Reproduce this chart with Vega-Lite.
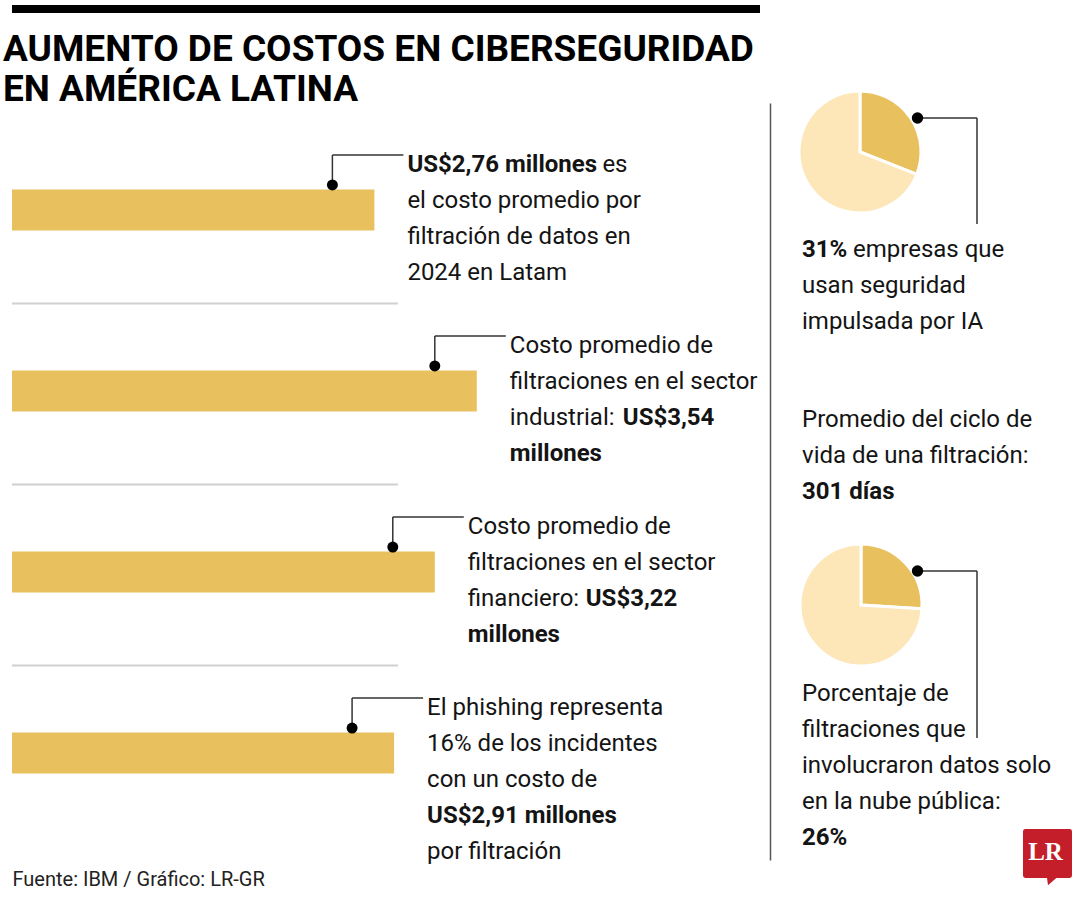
{
  "$schema": "https://vega.github.io/schema/vega-lite/v6.json",
  "background": "white",
  "padding": {"left": 0, "top": 4, "right": 0, "bottom": 0},
  "config": {
    "font": "Roboto",
    "view": {"stroke": null},
    "text": {"color": "#141414"}
  },
  "datasets": {
    "filas": [
      {"fila": "Latam 2024", "valor": 2.76, "negrita_l1": "US$2,76 millones", "cola_l1": "es", "regular_l2": ["el costo promedio por", "filtración de datos en", "2024 en Latam"]},
      {"fila": "Sector industrial", "valor": 3.54, "regular_l1": ["Costo promedio de", "filtraciones en el sector", "industrial:"], "negrita_l3": "US$3,54", "negrita_l4": "millones"},
      {"fila": "Sector financiero", "valor": 3.22, "regular_l1": ["Costo promedio de", "filtraciones en el sector", "financiero:"], "negrita_l3": "US$3,22", "negrita_l4": "millones"},
      {"fila": "Phishing", "valor": 2.91, "regular_l1": ["El phishing representa", "16% de los incidentes", "con un costo de"], "negrita_l4": "US$2,91 millones", "regular_l5": "por filtración"}
    ],
    "derecha": [
      {"bloque": "IA", "negrita": "31%", "cola": "empresas que", "regular": ["usan seguridad", "impulsada por IA"]},
      {"bloque": "Ciclo", "regular": ["Promedio del ciclo de", "vida de una filtración:"], "negrita": "301 días"},
      {"bloque": "Nube", "regular": ["Porcentaje de", "filtraciones que", "involucraron datos solo", "en la nube pública:"], "negrita": "26%"}
    ],
    "tortas": [
      {"bloque": "IA", "parte": "Sí", "pct": 31},
      {"bloque": "IA", "parte": "No", "pct": 69},
      {"bloque": "Nube", "parte": "Sí", "pct": 26},
      {"bloque": "Nube", "parte": "No", "pct": 74}
    ],
    "logo": [{"bloque": "Nube", "marca": "LR"}]
  },
  "spacing": 18,
  "vconcat": [
    {
      "width": 748,
      "height": 8,
      "view": {"fill": "#000000", "stroke": null},
      "data": {"values": [{"t": 1}]},
      "mark": {"type": "rule"},
      "encoding": {}
    },
    {
      "spacing": 0,
      "hconcat": [
        {
          "width": 758,
          "height": 757,
          "title": {
            "text": ["AUMENTO DE COSTOS EN CIBERSEGURIDAD", "EN AMÉRICA LATINA"],
            "anchor": "start",
            "frame": "bounds",
            "fontSize": 37,
            "fontWeight": "bold",
            "lineHeight": 40,
            "color": "#000000",
            "offset": -6,
            "dx": 3
          },
          "data": {"name": "filas"},
          "encoding": {
            "y": {
              "field": "fila", "type": "nominal", "sort": null,
              "scale": {"paddingInner": 0, "paddingOuter": 0.091},
              "axis": {"labels": false, "ticks": false, "domain": false, "grid": false, "title": null, "minExtent": 12, "maxExtent": 12}
            },
            "x": {
              "field": "valor", "type": "quantitative",
              "scale": {"domain": [0, 5.773], "nice": false, "zero": true},
              "axis": {"title": "Fuente: IBM / Gráfico: LR-GR", "titleAnchor": "start", "titleFontSize": 20, "titleFontWeight": "normal", "titleColor": "#222222", "titlePadding": 9, "labels": false, "ticks": false, "domain": false, "grid": false, "minExtent": 0, "maxExtent": 0}
            }
          },
          "layer": [
            {
              "transform": [{"filter": "datum.fila !== 'Phishing'"}],
              "mark": {"type": "rule", "color": "#d0d0d0", "strokeWidth": 2, "yOffset": 3},
              "encoding": {
                "y": {"field": "fila", "type": "nominal", "bandPosition": 1},
                "x": {"datum": 0, "type": "quantitative"},
                "x2": {"datum": 2.94}
              }
            },
            {
              "mark": {"type": "bar", "color": "#E8C15E", "height": 41}
            },
            {
              "mark": {"type": "rule", "color": "#333333", "strokeWidth": 1.5, "xOffset": -42, "yOffset": -25, "y2Offset": -55},
              "encoding": {"y2": {"field": "fila"}}
            },
            {
              "mark": {"type": "rule", "color": "#333333", "strokeWidth": 1.5, "xOffset": -42, "x2Offset": 29, "yOffset": -55},
              "encoding": {"x2": {"field": "valor"}}
            },
            {
              "mark": {"type": "circle", "color": "#000000", "opacity": 1, "size": 120, "xOffset": -42, "yOffset": -25}
            },
            {
              "transform": [{"filter": "isValid(datum.regular_l1)"}],
              "mark": {"type": "text", "align": "left", "baseline": "top", "fontSize": 24, "lineHeight": 36, "dx": 33, "dy": -57},
              "encoding": {"text": {"field": "regular_l1"}}
            },
            {
              "transform": [{"filter": "isValid(datum.regular_l2)"}],
              "mark": {"type": "text", "align": "left", "baseline": "top", "fontSize": 24, "lineHeight": 36, "dx": 33, "dy": -21},
              "encoding": {"text": {"field": "regular_l2"}}
            },
            {
              "transform": [{"filter": "isValid(datum.regular_l5)"}],
              "mark": {"type": "text", "align": "left", "baseline": "top", "fontSize": 24, "dx": 33, "dy": 87},
              "encoding": {"text": {"field": "regular_l5"}}
            },
            {
              "transform": [{"filter": "isValid(datum.negrita_l1)"}],
              "mark": {"type": "text", "align": "left", "baseline": "top", "fontSize": 24, "fontWeight": "bold", "dx": 33, "dy": -57},
              "encoding": {"text": {"field": "negrita_l1"}}
            },
            {
              "transform": [{"filter": "isValid(datum.cola_l1)"}],
              "mark": {"type": "text", "align": "left", "baseline": "top", "fontSize": 24, "dx": 228, "dy": -57},
              "encoding": {"text": {"field": "cola_l1"}}
            },
            {
              "transform": [{"filter": "datum.fila === 'Sector industrial'"}],
              "mark": {"type": "text", "align": "left", "baseline": "top", "fontSize": 24, "fontWeight": "bold", "dx": 146, "dy": 15},
              "encoding": {"text": {"field": "negrita_l3"}}
            },
            {
              "transform": [{"filter": "datum.fila === 'Sector financiero'"}],
              "mark": {"type": "text", "align": "left", "baseline": "top", "fontSize": 24, "fontWeight": "bold", "dx": 151, "dy": 15},
              "encoding": {"text": {"field": "negrita_l3"}}
            },
            {
              "transform": [{"filter": "isValid(datum.negrita_l4)"}],
              "mark": {"type": "text", "align": "left", "baseline": "top", "fontSize": 24, "fontWeight": "bold", "dx": 33, "dy": 51},
              "encoding": {"text": {"field": "negrita_l4"}}
            }
          ]
        },
        {
          "width": 300,
          "height": 757,
          "encoding": {
            "y": {
              "field": "bloque", "type": "nominal",
              "scale": {"domain": ["IA", "Ciclo", "Nube"], "paddingInner": 0, "paddingOuter": 0.171},
              "axis": {"labels": false, "ticks": false, "grid": false, "title": null, "domain": true, "domainColor": "#555555", "domainWidth": 1.5, "minExtent": 0, "maxExtent": 0}
            }
          },
          "layer": [
            {
              "data": {"name": "tortas"},
              "transform": [{"filter": "datum.bloque === 'IA'"}],
              "mark": {"type": "arc", "outerRadius": 61, "stroke": "#ffffff", "strokeWidth": 3, "xOffset": -60, "yOffset": -103},
              "encoding": {
                "theta": {"field": "pct", "type": "quantitative", "stack": true},
                "order": {"field": "pct", "sort": "ascending"},
                "color": {"field": "parte", "type": "nominal", "scale": {"domain": ["Sí", "No"], "range": ["#E8C15E", "#FDE6B8"]}, "legend": null}
              }
            },
            {
              "data": {"name": "tortas"},
              "transform": [{"filter": "datum.bloque === 'Nube'"}],
              "mark": {"type": "arc", "outerRadius": 61, "stroke": "#ffffff", "strokeWidth": 3, "xOffset": -59, "yOffset": -103},
              "encoding": {
                "theta": {"field": "pct", "type": "quantitative", "stack": true},
                "order": {"field": "pct", "sort": "ascending"},
                "color": {"field": "parte", "type": "nominal", "scale": {"domain": ["Sí", "No"], "range": ["#E8C15E", "#FDE6B8"]}, "legend": null}
              }
            },
            {
              "data": {"name": "derecha"},
              "transform": [{"filter": "datum.bloque !== 'Ciclo'"}],
              "mark": {"type": "tick", "orient": "horizontal", "color": "#333333", "opacity": 1, "thickness": 1.5, "size": 59.5, "xOffset": 27.25, "yOffset": -137},
              "encoding": {}
            },
            {
              "data": {"name": "derecha"},
              "transform": [{"filter": "datum.bloque === 'IA'"}],
              "mark": {"type": "rule", "color": "#333333", "strokeWidth": 1.5, "xOffset": 57, "yOffset": -137, "y2Offset": -31},
              "encoding": {"y2": {"field": "bloque"}}
            },
            {
              "data": {"name": "derecha"},
              "transform": [{"filter": "datum.bloque === 'Nube'"}],
              "mark": {"type": "rule", "color": "#333333", "strokeWidth": 1.5, "xOffset": 57, "yOffset": -137, "y2Offset": 30},
              "encoding": {"y2": {"field": "bloque"}}
            },
            {
              "data": {"name": "derecha"},
              "transform": [{"filter": "datum.bloque !== 'Ciclo'"}],
              "mark": {"type": "circle", "color": "#000000", "opacity": 1, "size": 130, "xOffset": -2.5, "yOffset": -137},
              "encoding": {}
            },
            {
              "data": {"name": "derecha"},
              "transform": [{"filter": "datum.bloque === 'IA'"}],
              "mark": {"type": "text", "align": "left", "baseline": "top", "fontSize": 24, "fontWeight": "bold", "dx": -118, "dy": -17},
              "encoding": {"text": {"field": "negrita"}}
            },
            {
              "data": {"name": "derecha"},
              "transform": [{"filter": "datum.bloque === 'IA'"}],
              "mark": {"type": "text", "align": "left", "baseline": "top", "fontSize": 24, "dx": -67, "dy": -17},
              "encoding": {"text": {"field": "cola"}}
            },
            {
              "data": {"name": "derecha"},
              "transform": [{"filter": "datum.bloque === 'IA'"}],
              "mark": {"type": "text", "align": "left", "baseline": "top", "fontSize": 24, "lineHeight": 36, "dx": -118, "dy": 19},
              "encoding": {"text": {"field": "regular"}}
            },
            {
              "data": {"name": "derecha"},
              "transform": [{"filter": "datum.bloque === 'Ciclo'"}],
              "mark": {"type": "text", "align": "left", "baseline": "top", "fontSize": 24, "lineHeight": 36, "dx": -118, "dy": -73.5},
              "encoding": {"text": {"field": "regular"}}
            },
            {
              "data": {"name": "derecha"},
              "transform": [{"filter": "datum.bloque === 'Ciclo'"}],
              "mark": {"type": "text", "align": "left", "baseline": "top", "fontSize": 24, "fontWeight": "bold", "dx": -118, "dy": -1.5},
              "encoding": {"text": {"field": "negrita"}}
            },
            {
              "data": {"name": "derecha"},
              "transform": [{"filter": "datum.bloque === 'Nube'"}],
              "mark": {"type": "text", "align": "left", "baseline": "top", "fontSize": 24, "lineHeight": 36, "dx": -118, "dy": -26},
              "encoding": {"text": {"field": "regular"}}
            },
            {
              "data": {"name": "derecha"},
              "transform": [{"filter": "datum.bloque === 'Nube'"}],
              "mark": {"type": "text", "align": "left", "baseline": "top", "fontSize": 24, "fontWeight": "bold", "dx": -118, "dy": 118},
              "encoding": {"text": {"field": "negrita"}}
            },
            {
              "data": {"name": "logo"},
              "mark": {"type": "point", "filled": true, "opacity": 1, "color": "#C41E2A", "size": 2401, "xOffset": 127.5, "yOffset": 145.5, "shape": "M -1 -0.9 Q -1 -1 -0.9 -1 L 0.9 -1 Q 1 -1 1 -0.9 L 1 0.9 Q 1 1 0.9 1 L 0.36 1 L 0.02 1.3 L -0.02 1 L -0.9 1 Q -1 1 -1 0.9 Z"},
              "encoding": {}
            },
            {
              "data": {"name": "logo"},
              "mark": {"type": "text", "align": "center", "baseline": "alphabetic", "font": "Liberation Serif", "fontWeight": "bold", "fontSize": 25, "color": "#ffffff", "dx": 125.5, "dy": 151.7},
              "encoding": {"text": {"field": "marca"}}
            }
          ]
        }
      ]
    }
  ]
}
